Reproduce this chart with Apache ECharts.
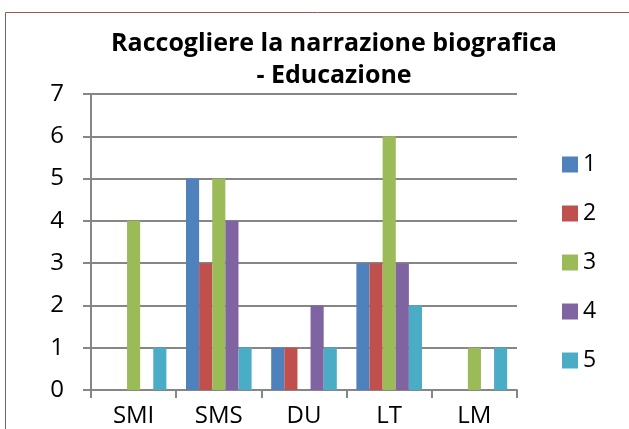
<!DOCTYPE html>
<html>
<head>
<meta charset="UTF-8"/>
<script src="https://cdn.jsdelivr.net/npm/echarts@6/dist/echarts.min.js"></script>
</head>
<body style="margin:0;background:#FFFFFF">
<div id="c" style="width:629px;height:429px;"></div>
<script>
// dati
const categories = ["SMI", "SMS", "DU", "LT", "LM"];
const seriesNames = ["1", "2", "3", "4", "5"];
const s1 = [0, 5, 1, 3, 0];
const s2 = [0, 3, 1, 3, 0];
const s3 = [4, 5, 0, 6, 1];
const s4 = [0, 4, 2, 3, 0];
const s5 = [1, 1, 1, 2, 1];
const values = [s1, s2, s3, s4, s5];
const colors = ["#4F81BD", "#C0504D", "#9BBB59", "#8064A2", "#4BACC6"];

const font = "'Open Sans', 'Noto Sans', sans-serif";

const chart = echarts.init(document.getElementById("c"), null, { renderer: "canvas" });
chart.setOption({
    animation: false,
    color: colors,
    title: {
        text: "Raccogliere la narrazione biografica\n- Educazione",
        left: 329, top: 23, textAlign: "center",
        textStyle: { fontFamily: font, fontSize: 25, fontWeight: "bold", color: "#000", lineHeight: 32 }
    },
    grid: { left: 91, right: 112, top: 94, bottom: 39 },
    legend: {
        orient: "vertical", left: 557, top: 148, itemGap: 26,
        itemWidth: 16, itemHeight: 16, icon: "rect",
        textStyle: { fontFamily: font, fontSize: 23, color: "#000" },
        data: seriesNames
    },
    xAxis: {
        type: "category", data: categories,
        axisLine: { lineStyle: { color: "#868686", width: 2 } },
        axisTick: { show: true, length: 8, lineStyle: { color: "#868686", width: 2 } },
        axisLabel: { fontFamily: font, fontSize: 24, color: "#000", margin: 14 }
    },
    yAxis: {
        type: "value", min: 0, max: 7, interval: 1,
        axisLine: { show: true, lineStyle: { color: "#868686", width: 2 } },
        axisTick: { show: true, length: 8, lineStyle: { color: "#868686", width: 2 } },
        splitLine: { lineStyle: { color: "#868686", width: 2 } },
        axisLabel: { fontFamily: font, fontSize: 24, color: "#000", margin: 27 }
    },
    series: seriesNames.map((n, i) => ({
        name: n, type: "bar", data: values[i],
        barGap: "0%", barCategoryGap: "23%"
    })),
    graphic: [{
        type: "rect", shape: { x: 5.5, y: 12.5, width: 640, height: 430 },
        style: { fill: null, stroke: "#9B5A5A", lineWidth: 1 }
    }]
});
</script>
</body>
</html>
